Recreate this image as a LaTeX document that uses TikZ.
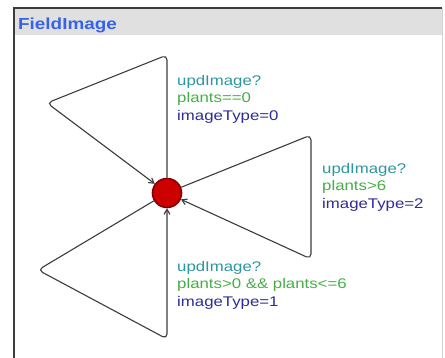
\documentclass[tikz,border=0pt]{standalone}
\usepackage{fontspec}
\usetikzlibrary{arrows.meta}
\newfontfamily\lblfont[FakeStretch=1.2]{Liberation Sans}
\newfontfamily\ttlfont[FakeStretch=1.18]{Liberation Sans}
\definecolor{synccol}{RGB}{45,150,160}
\definecolor{guardcol}{RGB}{70,175,70}
\definecolor{updcol}{RGB}{45,45,150}
\definecolor{titleblue}{RGB}{55,100,230}
\definecolor{hdrgray}{RGB}{224,224,224}
\definecolor{framecol}{RGB}{60,60,60}
\definecolor{edgecol}{RGB}{60,60,60}
\definecolor{locfill}{RGB}{205,0,0}
\definecolor{locdraw}{RGB}{130,0,0}
\tikzset{
  edgeline/.style={draw=edgecol, line width=1.1pt, rounded corners=5pt,
    -{Straight Barb[length=5pt,width=6pt]}},
  lbl/.style={anchor=base west, inner sep=0pt, font=\lblfont\fontsize{14}{17}\selectfont},
  synclbl/.style={lbl, text=synccol},
  guardlbl/.style={lbl, text=guardcol},
  updlbl/.style={lbl, text=updcol},
  location/.style={circle, minimum size=29pt, inner sep=0pt, fill=locfill, draw=locdraw, line width=1.6pt}
}
\begin{document}
\begin{tikzpicture}[x=1pt,y=-1pt]
\useasboundingbox (0,0) rectangle (445,358);
\fill[white] (0,0) rectangle (445,358);
\fill[hdrgray] (14,8) rectangle (442,35);
\draw[framecol, line width=1.5pt] (14,358) -- (14,8) -- (442,8);
\draw[gray!35, line width=0.8pt] (442,8) -- (442,358);
\node[anchor=base west, inner sep=0pt, text=titleblue, font=\ttlfont\bfseries\fontsize{16}{19}\selectfont] (title) at (18,30) {FieldImage};

\node[location] (s) at (167,193) {};

\coordinate (t1) at (167,55);
\coordinate (t2) at (47,103);
\coordinate (r1) at (311,135);
\coordinate (r2) at (311,259);
\coordinate (b1) at (38,270);
\coordinate (b2) at (167,339);

\draw[edgeline] (s) -- (t1) -- (t2) -- (s);
\draw[edgeline] (s) -- (r1) -- (r2) -- (s);
\draw[edgeline] (s) -- (b1) -- (b2) -- (s);

\node[synclbl] (ts) at (177,85.5) {updImage?};
\node[guardlbl] (tg) at (177,103) {plants==0};
\node[updlbl] (tu) at (177,120.5) {imageType=0};

\node[synclbl] (rs) at (322,173.5) {updImage?};
\node[guardlbl] (rg) at (322,191) {plants>6};
\node[updlbl] (ru) at (322,208.5) {imageType=2};

\node[synclbl] (bs) at (177,271.5) {updImage?};
\node[guardlbl] (bg) at (177,289) {plants>0 \&\& plants<=6};
\node[updlbl] (bu) at (177,306.5) {imageType=1};
\end{tikzpicture}
\end{document}
